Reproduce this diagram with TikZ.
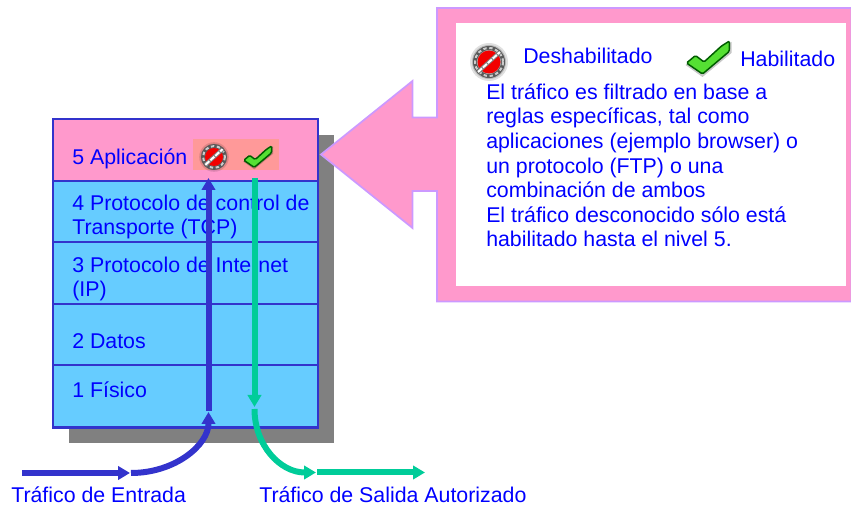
\documentclass[tikz,border=0pt]{standalone}
\usepackage{fontspec}
\setmainfont{Liberation Sans}
\usetikzlibrary{arrows.meta}
\definecolor{pinkc}{HTML}{FF99CC}
\definecolor{skyc}{HTML}{66CCFF}
\definecolor{edgec}{HTML}{3333CC}
\definecolor{lilac}{HTML}{CC99FF}
\definecolor{greenc}{HTML}{00CC99}
\definecolor{salmon}{HTML}{FF9999}
\definecolor{shadowc}{HTML}{808080}
\definecolor{txtc}{HTML}{0000FF}
\definecolor{checkc}{HTML}{55E033}
\tikzset{
  x=0.75pt,y=-0.75pt,
  layer/.style={draw=edgec,line width=1.6pt},
  lbl/.style={anchor=base west,inner sep=0pt,text=txtc,font=\fontsize{16}{19}\selectfont},
  inflow/.style={draw=edgec,line width=4.5pt,-{Triangle[length=9pt,width=10pt]}},
  outflow/.style={draw=greenc,line width=4.5pt,-{Triangle[length=9pt,width=10pt]}},
  stopicon/.pic={
    \fill[black,opacity=.12] (0,0) circle (19);
    \fill[black,opacity=.18] (0,0) circle (17);
    \draw[black!65,line width=3pt] (0,0) circle (14);
    \draw[white!80!black,line width=1.5pt,dash pattern=on 2.5pt off 2pt] (0,0) circle (14);
    \fill[red!95!black] (0,0) circle (11.5);
    \draw[black!50,line width=3pt] (-11,10) -- (11,-10);
    \draw[white,line width=1.5pt,dash pattern=on 4pt off 1pt] (-11,10) -- (11,-10);
  },
  checkicon/.pic={
    \fill[black,opacity=.22] (-22,7) -- (-12,-1) -- (-3,6) -- (14,-10) -- (24,-16) -- (24,-5) -- (-5,19) -- cycle;
    \filldraw[fill=checkc,draw=black!55!green!80!black,line width=1.1pt,rounded corners=1pt]
      (-21,5) -- (-12,-2.5) -- (-3.5,4) -- (14,-12) -- (22,-17) -- (21.7,-6.5) -- (-5,16) -- cycle;
  }
}
\begin{document}
\begin{tikzpicture}
\useasboundingbox (0,0) rectangle (851,505);
% shadow
\fill[shadowc] (69,135) rectangle (334,443);
% stack
\draw[layer,fill=pinkc] (53,119) rectangle (318,181);
\draw[layer,fill=skyc] (53,181) rectangle (318,242);
\draw[layer,fill=skyc] (53,242) rectangle (318,304);
\draw[layer,fill=skyc] (53,304) rectangle (318,365);
\draw[layer,fill=skyc] (53,365) rectangle (318,427.5);
\fill[salmon] (193,139.5) rectangle (279,170.5);
\pic[scale=.78] at (214,157) {stopicon};
\pic[scale=.65] at (257.5,157) {checkicon};
% stack labels
\node[lbl] (t5) at (72,164.3) {5 Aplicación};
\node[lbl] (t4a) at (72,210.8) {4 Protocolo de control de};
\node[lbl] (t4b) at (72,234.8) {Transporte (TCP)};
\node[lbl] (t3a) at (72,272.8) {3 Protocolo de Internet};
\node[lbl] (t3b) at (72,296.8) {(IP)};
\node[lbl] (t2) at (72,348.8) {2 Datos};
\node[lbl] (t1) at (72,397.8) {1 Físico};
% callout
\filldraw[fill=pinkc,draw=lilac,line width=1.3pt,line join=miter]
  (437,8) -- (851.5,8) -- (851.5,301.5) -- (437,301.5) -- (437,191) -- (412.5,191) -- (412.5,228)
  -- (321,154.5) -- (412.5,81) -- (412.5,117.5) -- (437,117.5) -- cycle;
\fill[white] (456,23) rectangle (846,286);
\pic at (489,62) {stopicon};
\pic at (707.5,58) {checkicon};
\node[lbl] (dh) at (523,63.5) {Deshabilitado};
\node[lbl] (hb) at (740,66.8) {Habilitado};
\node[lbl] (c1) at (486,99.5) {El tráfico es filtrado en base a};
\node[lbl] (c2) at (486,124) {reglas específicas, tal como};
\node[lbl] (c3) at (486,148.6) {aplicaciones (ejemplo browser) o};
\node[lbl] (c4) at (486,173.1) {un protocolo (FTP) o una};
\node[lbl] (c5) at (486,197.6) {combinación de ambos};
\node[lbl] (c6) at (486,222.1) {El tráfico desconocido sólo está};
\node[lbl] (c7) at (486,246.7) {habilitado hasta el nivel 5.};
% flows
\coordinate (inA) at (22,473);
\coordinate (inB) at (130,473);
\coordinate (inC) at (131,473);
\coordinate (inD) at (208.5,412);
\coordinate (upA) at (208.5,411);
\coordinate (upB) at (208.5,178);
\coordinate (dnA) at (254.5,178);
\coordinate (dnB) at (254.5,407);
\coordinate (ouA) at (254.5,409);
\coordinate (ouB) at (316,472.5);
\coordinate (exA) at (317,472.5);
\coordinate (exB) at (425,472.5);
\draw[inflow] (upA) -- (upB);
\draw[outflow] (dnA) -- (dnB);
\draw[inflow] (inA) -- (inB);
\draw[inflow] (inC) .. controls (175,473) and (208.5,445) .. (inD);
\draw[outflow] (ouA) .. controls (254.5,445) and (280,472.5) .. (ouB);
\draw[outflow] (exA) -- (exB);
\node[lbl] (te) at (11,502.3) {Tráfico de Entrada};
\node[lbl] (ts) at (259,502.3) {Tráfico de Salida Autorizado};
\end{tikzpicture}
\end{document}
